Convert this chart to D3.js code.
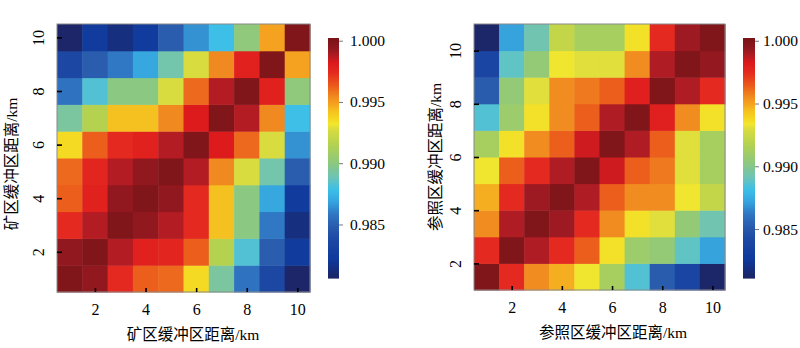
<!DOCTYPE html>
<html><head><meta charset="utf-8">
<script src="https://cdn.jsdelivr.net/npm/d3@7"></script>
<style>
html,body{margin:0;padding:0;background:#fff;}
svg{display:block;}
text{font-family:"Liberation Serif","Noto Sans CJK SC",serif;fill:#000;}
</style></head>
<body>
<svg id="chart" width="800" height="348"></svg>
<script>
// ---- data ----
const distances = [1,2,3,4,5,6,7,8,9,10];
const axisTicks = [2,4,6,8,10];
const cbTicks = [0.985,0.990,0.995,1.000];
const leftTitle = "矿区缓冲区距离/km";
const rightTitle = "参照区缓冲区距离/km";
// rows listed from distance 1 (bottom) to 10 (top); columns 1..10
const leftValues = [
  [1.0000,0.9994,0.9975,0.9963,0.9961,0.9936,0.9894,0.9857,0.9836,0.9808],
  [0.9994,1.0000,0.9988,0.9979,0.9977,0.9963,0.9916,0.9883,0.9849,0.9824],
  [0.9975,0.9988,1.0000,0.9994,0.9988,0.9975,0.9943,0.9900,0.9859,0.9814],
  [0.9963,0.9979,0.9994,1.0000,0.9994,0.9975,0.9943,0.9900,0.9870,0.9824],
  [0.9961,0.9977,0.9988,0.9994,1.0000,0.9988,0.9955,0.9928,0.9891,0.9849],
  [0.9936,0.9963,0.9975,0.9979,0.9988,1.0000,0.9982,0.9961,0.9928,0.9865],
  [0.9894,0.9916,0.9943,0.9943,0.9955,0.9982,1.0000,0.9988,0.9955,0.9879],
  [0.9857,0.9883,0.9900,0.9900,0.9928,0.9961,0.9988,1.0000,0.9979,0.9902],
  [0.9836,0.9849,0.9859,0.9870,0.9891,0.9928,0.9955,0.9979,1.0000,0.9949],
  [0.9808,0.9824,0.9814,0.9824,0.9849,0.9865,0.9879,0.9902,0.9949,1.0000]
];
const rightValues = [
  [1.0000,0.9976,0.9955,0.9948,0.9934,0.9913,0.9886,0.9852,0.9838,0.9813],
  [0.9976,1.0000,0.9989,0.9976,0.9964,0.9936,0.9909,0.9906,0.9889,0.9872],
  [0.9955,0.9989,1.0000,0.9992,0.9976,0.9955,0.9936,0.9931,0.9906,0.9893],
  [0.9948,0.9976,0.9992,1.0000,0.9989,0.9964,0.9955,0.9955,0.9934,0.9923],
  [0.9934,0.9964,0.9976,0.9989,1.0000,0.9985,0.9964,0.9959,0.9931,0.9913],
  [0.9913,0.9936,0.9955,0.9964,0.9985,1.0000,0.9989,0.9964,0.9931,0.9913],
  [0.9886,0.9909,0.9936,0.9955,0.9964,0.9989,1.0000,0.9980,0.9955,0.9936],
  [0.9852,0.9906,0.9931,0.9955,0.9959,0.9964,0.9980,1.0000,0.9989,0.9976],
  [0.9838,0.9889,0.9906,0.9934,0.9931,0.9931,0.9955,0.9989,1.0000,0.9994],
  [0.9813,0.9872,0.9893,0.9923,0.9913,0.9913,0.9936,0.9976,0.9992,1.0000]
];
const leftRange = [0.98063, 1.00022];
const rightRange = [0.98110, 1.00022];

// ---- colormap (style) ----
const cmapPos = [0,0.08,0.16,0.22,0.27,0.32,0.37,0.42,0.48,0.56,0.62,0.645,0.67,0.70,0.73,0.76,0.80,0.86,0.90,0.93,0.96,1];
const cmapCol = ["#1e2463","#0f3a9c","#1d48a4","#2a5eae","#3078c4","#36a4de","#3cbfe8","#6cc4b8","#8cc880","#b4d250","#d8dc40","#f2e62e","#f6d420","#f5c020","#f5a020","#f08820","#ec5e1c","#e42a20","#dc1a1c","#b01c24","#901820","#7a1418"];

const svg = d3.select("#chart");

function panel(cfg){
  const {values, range, x0, x1, y0, y1, yTickAtEdge, cbX, cbW, cbY0, cbY1, cbTick, cbPad, yLabelOff, titleX, titleY, xTitleX, xTitleY, xTitle, yTitle} = cfg;
  const color = d3.scaleLinear()
    .domain(cmapPos.map(p => range[0] + p*(range[1]-range[0])))
    .range(cmapCol).interpolate(d3.interpolateRgb).clamp(true);
  const x = d3.scaleLinear().domain([0.5,10.5]).range([x0,x1]);
  const y = yTickAtEdge ? d3.scaleLinear().domain([1,11]).range([y1,y0])
                        : d3.scaleLinear().domain([0.5,10.5]).range([y1,y0]);
  const rowLo = r => yTickAtEdge ? r : r-0.5;
  const cells = [];
  values.forEach((row,ri)=>row.forEach((v,ci)=>cells.push({r:distances[ri], c:distances[ci], v})));
  const g = svg.append("g");
  g.selectAll("rect.cell").data(cells).join("rect").attr("class","cell")
    .attr("x", d => x(d.c-0.5)).attr("width", d => x(d.c+0.5)-x(d.c-0.5)+0.5)
    .attr("y", d => y(rowLo(d.r)+1)).attr("height", d => y(rowLo(d.r))-y(rowLo(d.r)+1)+0.5)
    .attr("fill", d => color(d.v));
  g.append("rect").attr("x",x0).attr("y",y0).attr("width",x1-x0).attr("height",y1-y0)
    .attr("fill","none").attr("stroke","#8a8a8a").attr("stroke-width",1);
  // x axis
  const xa = g.append("g").attr("transform",`translate(0,${y1})`)
    .call(d3.axisBottom(x).tickValues(axisTicks).tickSizeInner(-4).tickSizeOuter(0).tickPadding(12).tickFormat(d3.format("d")));
  xa.select(".domain").remove();
  xa.selectAll("line").attr("stroke","#000").attr("stroke-width",1.6);
  xa.selectAll("text").attr("font-size","16px").attr("font-family","Liberation Serif");
  // y axis
  const ya = g.append("g").attr("transform",`translate(${x0},0)`)
    .call(d3.axisLeft(y).tickValues(axisTicks).tickSizeInner(-5).tickSizeOuter(0).tickFormat(d3.format("d")));
  ya.select(".domain").remove();
  ya.selectAll("line").attr("stroke","#000").attr("stroke-width",1.6);
  ya.selectAll("text").attr("font-size","16px").attr("font-family","Liberation Serif")
    .attr("x",null).attr("dy",null).attr("text-anchor","middle")
    .attr("transform",`translate(${yLabelOff},0) rotate(-90)`);
  // titles
  g.append("text").attr("x",xTitleX).attr("y",xTitleY).attr("text-anchor","middle")
    .attr("font-size","15.5px").text(xTitle);
  g.append("text").attr("text-anchor","middle").attr("font-size","15.5px")
    .attr("transform",`translate(${titleX},${titleY}) rotate(-90)`).text(yTitle);
  // colorbar
  const cy = d3.scaleLinear().domain(range).range([cbY1,cbY0]);
  const steps = d3.range(0,240).map(i => range[0] + (i+0.5)/240*(range[1]-range[0]));
  const dv = (range[1]-range[0])/240;
  g.selectAll("rect.cb").data(steps).join("rect").attr("class","cb")
    .attr("x",cbX).attr("width",cbW)
    .attr("y", d => cy(d+dv/2)).attr("height", d => cy(d-dv/2)-cy(d+dv/2)+0.6)
    .attr("fill", d => color(d));
  const ca = g.append("g").attr("transform",`translate(${cbX+cbW},0)`)
    .call(d3.axisRight(cy).tickValues(cbTicks).tickSizeInner(cbTick).tickSizeOuter(0).tickPadding(cbPad).tickFormat(d3.format(".3f")));
  ca.select(".domain").remove();
  ca.selectAll("line").attr("stroke","#777");
  ca.selectAll("text").attr("font-size","15.5px").attr("font-family","Liberation Serif");
}

panel({values:leftValues, range:leftRange, x0:57, x1:310, y0:24, y1:292, yTickAtEdge:false,
  cbX:328, cbW:11, cbY0:38, cbY1:278, cbTick:4, cbPad:7, yLabelOff:-13,
  titleX:17, titleY:164, xTitleX:193, xTitleY:340, xTitle:leftTitle, yTitle:leftTitle});
panel({values:rightValues, range:rightRange, x0:474, x1:725, y0:24, y1:290, yTickAtEdge:true,
  cbX:743, cbW:12, cbY0:38, cbY1:278, cbTick:4, cbPad:4, yLabelOff:-13,
  titleX:441, titleY:157, xTitleX:613, xTitleY:338, xTitle:rightTitle, yTitle:rightTitle});
</script>
</body></html>
